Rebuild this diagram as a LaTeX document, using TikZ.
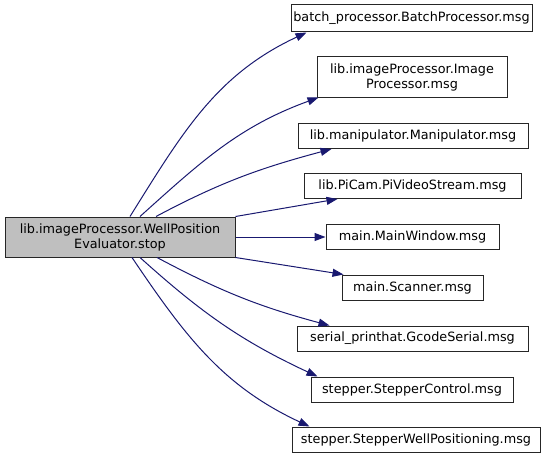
\documentclass[tikz,border=0pt]{standalone}
\usepackage{fontspec}
\setmainfont{DejaVu Sans}
\usepackage{tikz}
\usetikzlibrary{positioning, arrows.meta}
\definecolor{edgeBlue}{RGB}{25, 25, 112}
\definecolor{curGray}{RGB}{191, 191, 191}

\begin{document}
\begin{tikzpicture}[
        x=1pt, y=1pt,
        font=\fontsize{12.8}{15}\selectfont,
        b/.style={rectangle, draw=black!85, line width=1pt, fill=white,
            align=center, inner sep=1pt, minimum height=25pt},
        arr/.style={-{Triangle[length=11pt, width=8pt]}, line width=1pt, edgeBlue}
    ]
    \useasboundingbox (0,0) rectangle (548,459);
    \node[b, fill=curGray, minimum width=230pt, minimum height=40pt] (stop) at (120,222) {lib.imageProcessor.WellPosition\\Evaluator.stop};
    \node[b, minimum width=241pt, minimum height=27pt] (batch) at (411.5,440.5) {batch\_processor.BatchProcessor.msg};
    \node[b, minimum width=190pt, minimum height=40pt] (imgproc) at (412,382) {lib.imageProcessor.Image\\Processor.msg};
    \node[b, minimum width=230pt] (manip) at (413,323) {lib.manipulator.Manipulator.msg};
    \node[b, minimum width=217pt] (picam) at (412.5,273) {lib.PiCam.PiVideoStream.msg};
    \node[b, minimum width=173pt] (mainwin) at (412.5,222) {main.MainWindow.msg};
    \node[b, minimum width=141pt] (scanner) at (412.5,171.5) {main.Scanner.msg};
    \node[b, minimum width=231pt] (serial) at (412.5,120.5) {serial\_printhat.GcodeSerial.msg};
    \node[b, minimum width=202pt] (stepctl) at (412,69.5) {stepper.StepperControl.msg};
    \node[b, minimum width=248pt] (wellpos) at (416,19.5) {stepper.StepperWellPositioning.msg};
    % calls going up
    \draw[arr] ([xshift=10pt]stop.north) to[out=58, in=205] ([xshift=16pt]batch.south west);
    \draw[arr] ([xshift=20pt]stop.north) to[out=42, in=200] ([xshift=2pt]imgproc.south west);
    \draw[arr] ([xshift=36pt]stop.north) to[out=28, in=195] ([xshift=34pt]manip.south west);
    \draw[arr] (stop.north east) -- ([xshift=34pt]picam.south west);
    \draw[arr] (stop.east) -- (mainwin.west);
    % calls going down
    \draw[arr] (stop.south east) -- ([xshift=2pt]scanner.north west);
    \draw[arr] ([xshift=37pt]stop.south) to[out=-28, in=165] ([xshift=33pt]serial.north west);
    \draw[arr] ([xshift=20pt]stop.south) to[out=-42, in=155] ([xshift=7pt]stepctl.north west);
    \draw[arr] ([xshift=12pt]stop.south) to[out=-56, in=155] ([xshift=18pt]wellpos.north west);
\end{tikzpicture}
\end{document}
